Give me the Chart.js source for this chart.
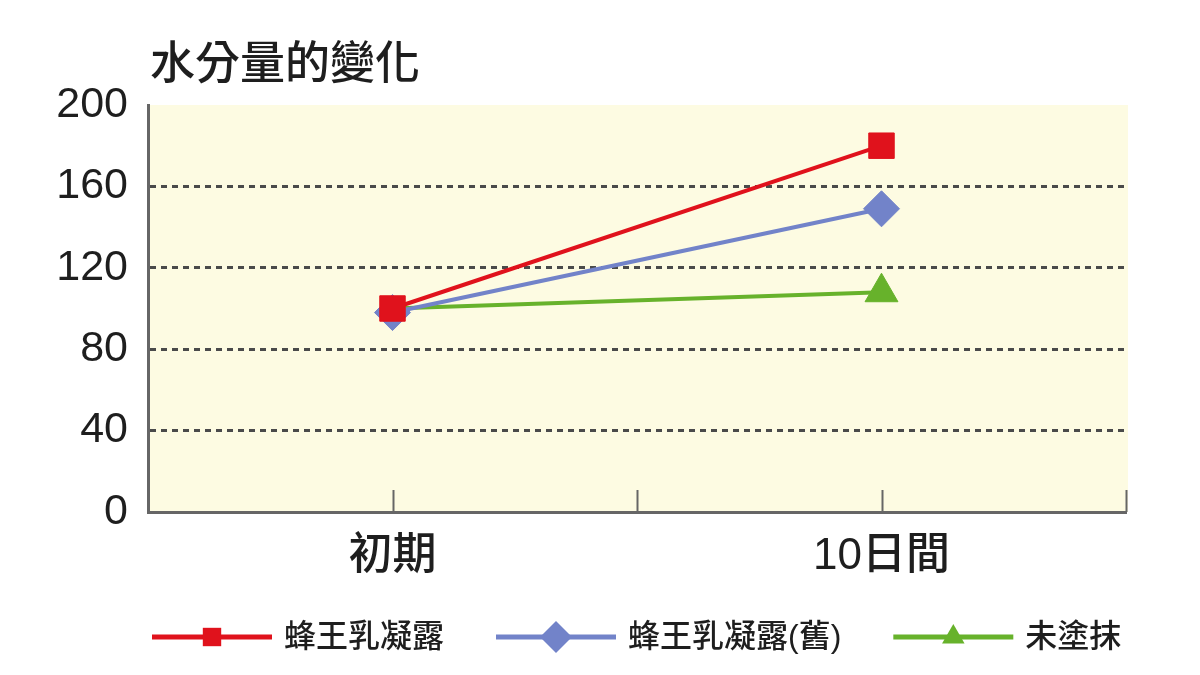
<!DOCTYPE html>
<html>
<head>
<meta charset="utf-8">
<script src="https://cdn.jsdelivr.net/npm/chart.js@4.4.1/dist/chart.umd.min.js"></script>
<style>
  html, body { margin: 0; padding: 0; background: #ffffff; }
  #wrap { width: 1200px; height: 675px; position: relative; }
</style>
</head>
<body>
<div id="wrap"><canvas id="c" width="1200" height="675"></canvas></div>
<script>
// ---- data ----
const chartTitle = '水分量的變化';
const categories = ['初期', '10日間'];
const seriesNames = ['蜂王乳凝露', '蜂王乳凝露(舊)', '未塗抹'];
const royalJellyGel = [100, 180];
const royalJellyGelOld = [98, 149];
const untreated = [100, 108];
const yTicks = [0, 40, 80, 120, 160, 200];

const colors = ['#e0121c', '#7283c9', '#67b22b'];
const styles = ['rect', 'rectRot', 'triangle'];
const radii = [[18, 18], [18, 18], [12, 19]];
const legendRadii = [13, 16, 13];

const FONT_NUM = '"Liberation Sans", Arial, "Noto Sans CJK TC", sans-serif';
const FONT_CJK = '"Liberation Sans", Arial, "Noto Sans CJK TC", "Noto Sans CJK SC", sans-serif';

const seriesData = [royalJellyGel, royalJellyGelOld, untreated];
const datasets = seriesData.map((d, i) => ({
  label: seriesNames[i],
  data: d,
  borderColor: colors[i],
  backgroundColor: colors[i],
  borderWidth: 4,
  pointStyle: styles[i],
  pointRadius: radii[i],
  pointHoverRadius: radii[i],
  pointBorderWidth: 1,
  pointBorderColor: colors[i],
  pointBackgroundColor: colors[i],
  tension: 0,
  fill: false
}));

function drawMarker(ctx, style, x, y, r, color) {
  ctx.save();
  ctx.fillStyle = color;
  ctx.beginPath();
  if (style === 'rect') {
    const s = Math.SQRT1_2 * r;
    ctx.rect(x - s, y - s, 2 * s, 2 * s);
  } else if (style === 'rectRot') {
    ctx.moveTo(x, y - r); ctx.lineTo(x + r, y); ctx.lineTo(x, y + r); ctx.lineTo(x - r, y);
    ctx.closePath();
  } else {
    ctx.moveTo(x, y - r);
    ctx.lineTo(x + 0.866 * r, y + 0.5 * r);
    ctx.lineTo(x - 0.866 * r, y + 0.5 * r);
    ctx.closePath();
  }
  ctx.fill();
  ctx.restore();
}

const decorPlugin = {
  id: 'decor',
  beforeDraw(chart) {
    const { ctx, chartArea: a } = chart;
    ctx.save();
    ctx.fillStyle = '#fdfbe2';
    ctx.fillRect(a.left, a.top, a.right - a.left + 2, a.bottom - a.top);
    ctx.restore();
  },
  afterDraw(chart) {
    const { ctx, chartArea: a } = chart;
    const xs = chart.scales.x;
    // inward tick marks on the x axis (category boundaries and centres)
    ctx.save();
    ctx.strokeStyle = '#666';
    ctx.lineWidth = 2;
    for (let v = -0.5; v <= categories.length - 0.5 + 1e-9; v += 0.5) {
      const px = Math.round(xs.getPixelForValue(v)) + 0.5;
      ctx.beginPath();
      ctx.moveTo(px, a.bottom);
      ctx.lineTo(px, a.bottom - 22);
      ctx.stroke();
    }
    ctx.restore();

    // title
    ctx.save();
    ctx.fillStyle = '#1e1e1e';
    ctx.font = '500 45px ' + FONT_CJK;
    ctx.textBaseline = 'middle';
    ctx.textAlign = 'left';
    ctx.fillText(chartTitle, 150, 67);
    ctx.restore();

    // legend
    ctx.save();
    const ly = 637;
    let x = 152;
    const lineLen = 120;
    ctx.font = '500 32px ' + FONT_CJK;
    ctx.textBaseline = 'middle';
    ctx.textAlign = 'left';
    chart.data.datasets.forEach((ds, i) => {
      ctx.strokeStyle = ds.borderColor;
      ctx.lineWidth = 5;
      ctx.beginPath();
      ctx.moveTo(x, ly);
      ctx.lineTo(x + lineLen, ly);
      ctx.stroke();
      drawMarker(ctx, ds.pointStyle, x + lineLen / 2, ly, legendRadii[i], ds.borderColor);
      ctx.fillStyle = '#1e1e1e';
      const tx = x + lineLen + 12;
      ctx.fillText(ds.label, tx, ly + 1);
      x = tx + ctx.measureText(ds.label).width + 52;
    });
    ctx.restore();
  }
};

new Chart(document.getElementById('c'), {
  type: 'line',
  data: { labels: categories, datasets },
  options: {
    responsive: false,
    animation: false,
    devicePixelRatio: 1,
    layout: { padding: { top: 105, left: 0, right: 74, bottom: 0 } },
    plugins: {
      legend: { display: false },
      title: { display: false },
      tooltip: { enabled: false }
    },
    scales: {
      x: {
        type: 'category',
        offset: true,
        grid: { display: false, drawTicks: false },
        border: { display: true, color: '#666', width: 3 },
        ticks: {
          color: '#1e1e1e',
          font: { family: FONT_CJK, size: 44, weight: '500' },
          padding: 18,
          maxRotation: 0
        },
        afterFit(scale) { scale.height = 675 - 512; }
      },
      y: {
        type: 'linear',
        min: yTicks[0],
        max: yTicks[yTicks.length - 1],
        afterBuildTicks(scale) { scale.ticks = yTicks.map(v => ({ value: v })); },
        grid: {
          drawTicks: false,
          color: ctx => (ctx.tick && (ctx.tick.value === yTicks[0] || ctx.tick.value === yTicks[yTicks.length - 1])) ? 'rgba(0,0,0,0)' : '#4a4a4a',
          lineWidth: 3
        },
        border: { display: true, color: '#666', width: 3, dash: [6, 5] },
        ticks: {
          color: '#1e1e1e',
          font: { family: FONT_NUM, size: 43 },
          padding: 20
        },
        afterFit(scale) { scale.width = 148; }
      }
    }
  },
  plugins: [decorPlugin]
});
</script>
</body>
</html>
